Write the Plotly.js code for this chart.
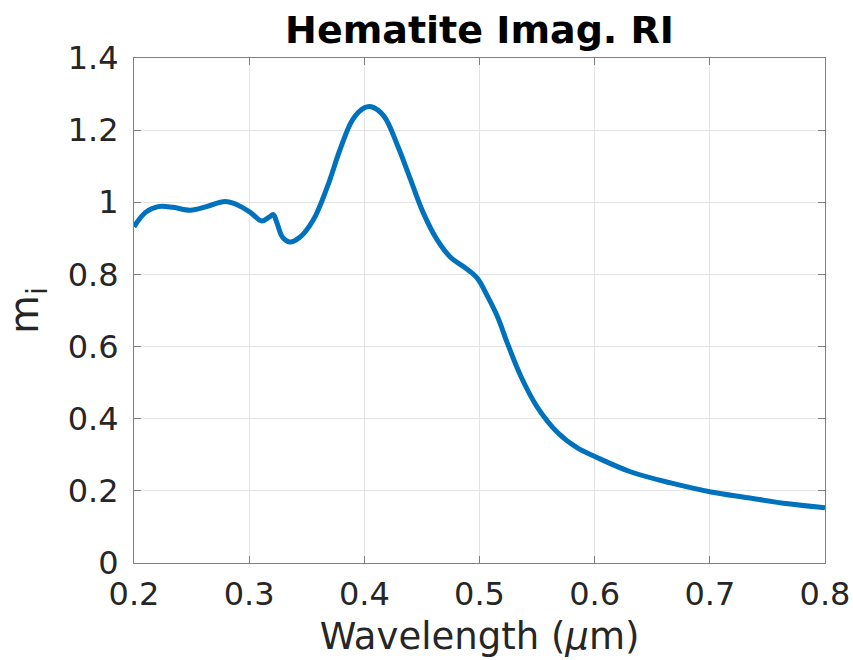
<!DOCTYPE html>
<html>
<head>
<meta charset="utf-8">
<script src="https://cdn.plot.ly/plotly-3.0.1.min.js"></script>
<style>html,body{margin:0;padding:0;background:#fff;}#chart{width:853px;height:660px;}</style>
</head>
<body>
<div id="chart"></div>
<script>
const wavelength = [0.200,0.210,0.221,0.234,0.249,0.263,0.279,0.289,0.301,0.311,0.317,0.321,0.324,0.329,0.335,0.344,0.356,0.368,0.379,0.390,0.400,0.406,0.417,0.429,0.440,0.451,0.463,0.475,0.486,0.498,0.507,0.516,0.524,0.536,0.550,0.568,0.585,0.601,0.631,0.666,0.701,0.733,0.768,0.800];
const imagRI = [0.932,0.972,0.988,0.986,0.978,0.988,1.002,0.994,0.972,0.948,0.958,0.966,0.944,0.903,0.890,0.903,0.953,1.044,1.147,1.230,1.262,1.265,1.239,1.156,1.064,0.972,0.897,0.847,0.822,0.790,0.739,0.680,0.611,0.517,0.433,0.361,0.319,0.294,0.253,0.222,0.197,0.181,0.164,0.153];
const xTicks = [0.2,0.3,0.4,0.5,0.6,0.7,0.8];
const yTicks = [0,0.2,0.4,0.6,0.8,1,1.2,1.4];
const yTickLabels = ['0','0.2','0.4','0.6','0.8','1','1.2','1.4'];

const trace = {
  x: wavelength, y: imagRI, type: 'scatter', mode: 'lines',
  line: {color: '#0072BD', width: 5, shape: 'spline', smoothing: 1.0},
  hoverinfo: 'x+y'
};
const axisCommon = {
  showline: true, linecolor: '#7f7f7f', linewidth: 1, mirror: 'ticks',
  ticks: 'inside', ticklen: 7, tickcolor: '#7f7f7f', tickwidth: 1,
  showgrid: true, gridcolor: '#e3e3e3', gridwidth: 1, zeroline: false,
  tickfont: {family: 'DejaVu Sans', size: 32, color: '#262626'}
};
const layout = {
  width: 853, height: 660,
  margin: {l: 134, r: 28, t: 58, b: 97},
  paper_bgcolor: '#fff', plot_bgcolor: '#fff',
  showlegend: false,
  title: {text: '<b>Hematite Imag. RI</b>', x: 0.5, xref: 'paper', xanchor: 'center',
          y: 0.935, yref: 'container', yanchor: 'bottom',
          font: {family: 'DejaVu Sans', size: 38, color: '#000'}},
  xaxis: Object.assign({}, axisCommon, {
    range: [0.2, 0.8], tickvals: xTicks, ticktext: xTicks.map(v => v.toFixed(1)),
    ticklabelstandoff: 3,
    title: {text: 'Wavelength (<i>μ</i>m)', standoff: 10, font: {family: 'DejaVu Sans', size: 37, color: '#262626'}}
  }),
  yaxis: Object.assign({}, axisCommon, {
    range: [0, 1.4], tickvals: yTicks, ticktext: yTickLabels,
    ticklabelstandoff: 8,
    title: {text: 'm<sub>i</sub>', standoff: 16, font: {family: 'DejaVu Sans', size: 40, color: '#262626'}}
  })
};
Plotly.newPlot('chart', [trace], layout, {displayModeBar: false, responsive: false});
</script>
</body>
</html>
